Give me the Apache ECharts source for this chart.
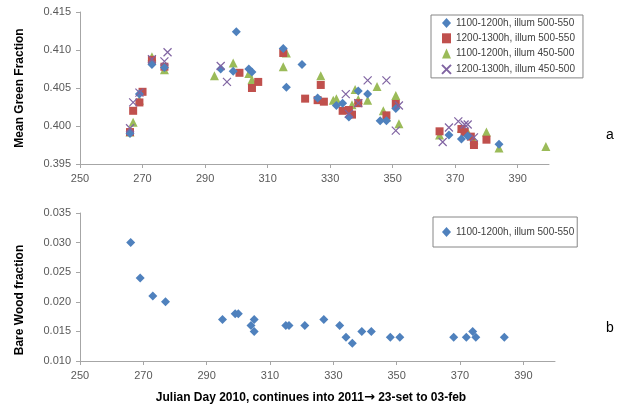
<!DOCTYPE html>
<html><head><meta charset="utf-8">
<script src="https://cdn.jsdelivr.net/npm/echarts@6/dist/echarts.min.js"></script>
<style>html,body{margin:0;padding:0;background:#fff}#c{width:627px;height:408px}</style>
</head><body><div id="c"></div>
<script>
// ---- Data ----
const xTicks = [250, 270, 290, 310, 330, 350, 370, 390];
const topYTicks = [0.395, 0.400, 0.405, 0.410, 0.415];
const botYTicks = [0.010, 0.015, 0.020, 0.025, 0.030, 0.035];
const seriesNames = ['1100-1200h, illum 500-550', '1200-1300h, illum 500-550', '1100-1200h, illum 450-500', '1200-1300h, illum 450-500'];

const blueDays = [266, 269, 273, 277, 295, 299, 300, 304, 305, 315, 316, 321, 326, 332, 334, 336, 339, 342, 346, 348, 351, 368, 372, 374, 384];
const blueVals = [0.3990, 0.4042, 0.4081, 0.4077, 0.4075, 0.4072, 0.4124, 0.4075, 0.4071, 0.4102, 0.4051, 0.4081, 0.4037, 0.4027, 0.4030, 0.4012, 0.4046, 0.4042, 0.4007, 0.4007, 0.4023, 0.3988, 0.3983, 0.3987, 0.3976];

const redDays = [266, 267, 269, 270, 273, 277, 301, 305, 307, 315, 322, 326, 327, 328, 334, 336, 337, 339, 348, 351, 365, 372, 373, 375, 376, 380];
const redVals = [0.3992, 0.4020, 0.4031, 0.4045, 0.4087, 0.4078, 0.4070, 0.4050, 0.4058, 0.4096, 0.4036, 0.4034, 0.4054, 0.4032, 0.4020, 0.4021, 0.4015, 0.4030, 0.4014, 0.4029, 0.3993, 0.3996, 0.3992, 0.3986, 0.3975, 0.3982];

const greenDays = [266, 267, 269, 273, 277, 293, 299, 304, 305, 315, 316, 327, 331, 332, 337, 338, 339, 342, 345, 347, 348, 351, 352, 365, 372, 374, 376, 380, 384, 399];
const greenVals = [0.3992, 0.4005, 0.4034, 0.4091, 0.4074, 0.4066, 0.4083, 0.4069, 0.4061, 0.4078, 0.4096, 0.4066, 0.4034, 0.4036, 0.4028, 0.4048, 0.4035, 0.4034, 0.4052, 0.4020, 0.4012, 0.4040, 0.4003, 0.3988, 0.3997, 0.3992, 0.3982, 0.3992, 0.3971, 0.3973];

const purpleDays = [266, 267, 269, 273, 277, 278, 295, 297, 335, 336, 339, 342, 348, 351, 352, 366, 368, 371, 373, 374, 376];
const purpleVals = [0.3997, 0.4031, 0.4044, 0.4088, 0.4085, 0.4097, 0.4079, 0.4058, 0.4042, 0.4016, 0.4030, 0.4060, 0.4060, 0.3994, 0.4027, 0.3979, 0.3998, 0.4006, 0.4002, 0.4002, 0.3985];

const woodDays = [266, 269, 273, 277, 295, 299, 300, 304, 305, 305, 315, 316, 321, 327, 332, 334, 336, 339, 342, 348, 351, 368, 372, 374, 375, 384];
const woodVals = [0.030, 0.024, 0.021, 0.020, 0.017, 0.018, 0.018, 0.016, 0.017, 0.015, 0.016, 0.016, 0.016, 0.017, 0.016, 0.014, 0.013, 0.015, 0.015, 0.014, 0.014, 0.014, 0.014, 0.015, 0.014, 0.014];

// ---- Build ----
const pair = (d, v) => d.map((x, i) => [x, v[i]]);
const FONT = 'Liberation Sans';
const AX = '#A6A6A6';
const LBL = '#595959';
const xLabelSet = new Set(xTicks);

function xAxis(gi) {
  return {
    type: 'value', gridIndex: gi, min: 250, max: 400, interval: 20,
    axisLine: { lineStyle: { color: AX } },
    axisTick: { show: true, length: 4, lineStyle: { color: AX } },
    splitLine: { show: false },
    axisLabel: { color: LBL, fontFamily: FONT, fontSize: 11, margin: 9, showMaxLabel: false,
      formatter: v => xLabelSet.has(v) ? String(v) : '' }
  };
}
function yAxis(gi, ticks) {
  return {
    type: 'value', gridIndex: gi, min: ticks[0], max: ticks[ticks.length - 1],
    interval: ticks[1] - ticks[0],
    axisLine: { show: true, lineStyle: { color: AX } },
    axisTick: { show: true, length: 4, lineStyle: { color: AX } },
    splitLine: { show: false },
    axisLabel: { color: LBL, fontFamily: FONT, fontSize: 11, margin: 9, formatter: v => v.toFixed(3) }
  };
}

const xPath = 'path://M0,0L10,10M10,0L0,10';
const colors = ['#4F81BD', '#C0504D', '#9BBB59', '#8064A2'];
const legendText = { fontFamily: FONT, fontSize: 10, color: '#404040', lineHeight: 10 };

const option = {
  animation: false,
  textStyle: { fontFamily: FONT },
  grid: [
    { left: 80, top: 12, width: 469, height: 152 },
    { left: 80, top: 213, width: 475, height: 148 }
  ],
  xAxis: [xAxis(0), xAxis(1)],
  yAxis: [yAxis(0, topYTicks), yAxis(1, botYTicks)],
  legend: [
    { orient: 'vertical', left: 431, top: 15,
      data: seriesNames, itemWidth: 9, itemHeight: 10, itemGap: 5.3,
      padding: [3, 8, 3, 10], borderColor: '#868686', borderWidth: 1,
      textStyle: legendText },
    { orient: 'vertical', left: 433, top: 217,
      data: [{ name: 'wood', icon: 'diamond' }], itemWidth: 9, itemHeight: 10,
      padding: [10, 3, 10, 9], borderColor: '#868686', borderWidth: 1,
      formatter: () => seriesNames[0],
      textStyle: legendText }
  ],
  series: [
    { name: seriesNames[0], type: 'scatter', xAxisIndex: 0, yAxisIndex: 0, symbol: 'diamond', symbolSize: 9,
      itemStyle: { color: colors[0], opacity: 1 }, data: pair(blueDays, blueVals), z: 4 },
    { name: seriesNames[1], type: 'scatter', xAxisIndex: 0, yAxisIndex: 0, symbol: 'rect', symbolSize: 8,
      itemStyle: { color: colors[1], opacity: 1 }, data: pair(redDays, redVals), z: 3 },
    { name: seriesNames[2], type: 'scatter', xAxisIndex: 0, yAxisIndex: 0, symbol: 'triangle', symbolSize: 9,
      itemStyle: { color: colors[2], opacity: 1 }, data: pair(greenDays, greenVals), z: 2 },
    { name: seriesNames[3], type: 'scatter', xAxisIndex: 0, yAxisIndex: 0, symbol: xPath, symbolSize: 8,
      itemStyle: { color: 'rgba(0,0,0,0)', borderColor: colors[3], borderWidth: 1.2, opacity: 1 }, data: pair(purpleDays, purpleVals), z: 5 },
    { name: 'wood', type: 'scatter', xAxisIndex: 1, yAxisIndex: 1, symbol: 'diamond', symbolSize: 9,
      itemStyle: { color: colors[0], opacity: 1 }, data: pair(woodDays, woodVals) }
  ],
  graphic: [
    { type: 'text', x: 20, y: 88, rotation: Math.PI / 2, style: { text: 'Mean Green Fraction', font: 'bold 12px Liberation Sans', fill: '#000', align: 'center', verticalAlign: 'middle' } },
    { type: 'text', x: 20, y: 300, rotation: Math.PI / 2, style: { text: 'Bare Wood fraction', font: 'bold 12px Liberation Sans', fill: '#000', align: 'center', verticalAlign: 'middle' } },
    { type: 'text', x: 311, y: 398, style: {
        text: '{a|Julian Day 2010, continues into 2011}{b|\u2192}{a| 23-set to 03-feb}',
        rich: {
          a: { font: 'bold 12px Liberation Sans', fill: '#000', color: '#000' },
          b: { font: 'bold 13px DejaVu Sans', fill: '#000', color: '#000' }
        },
        align: 'center', verticalAlign: 'middle' } },
    { type: 'text', x: 610, y: 135, style: { text: 'a', font: '14px Liberation Sans', fill: '#000', align: 'center', verticalAlign: 'middle' } },
    { type: 'text', x: 610, y: 328, style: { text: 'b', font: '14px Liberation Sans', fill: '#000', align: 'center', verticalAlign: 'middle' } }
  ]
};
const chart = echarts.init(document.getElementById('c'), null, { renderer: 'canvas' });
chart.setOption(option);
</script></body></html>
